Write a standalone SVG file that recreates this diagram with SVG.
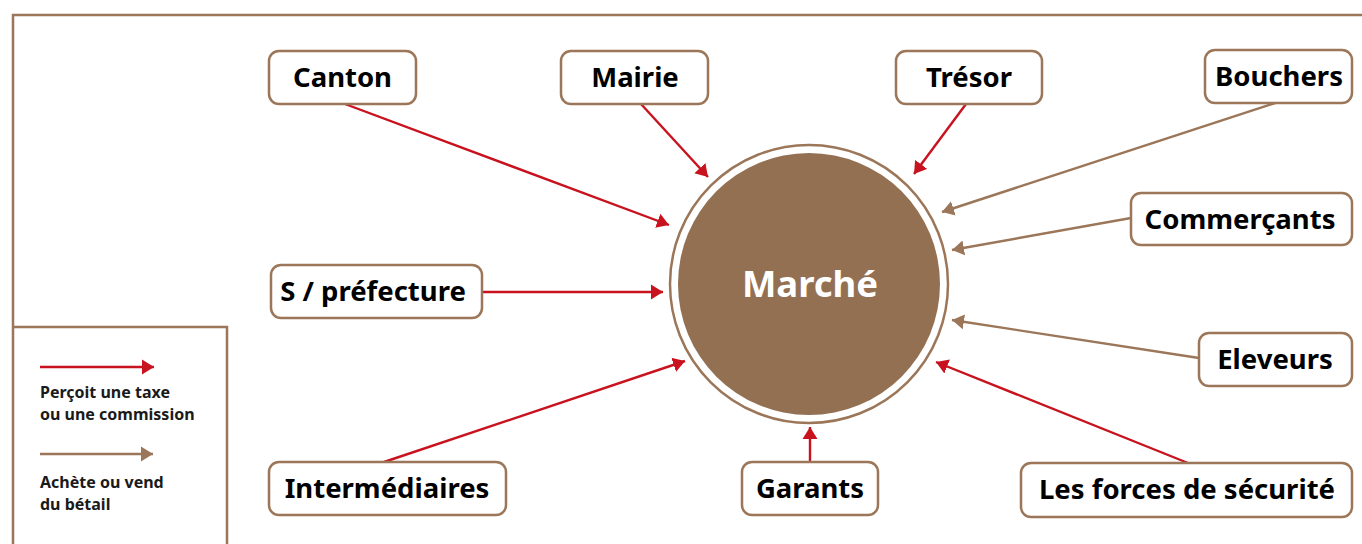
<svg xmlns="http://www.w3.org/2000/svg" width="1362" height="544" viewBox="0 0 1362 544">
  <style>
    .frame { fill: none; stroke: #9b7658; stroke-width: 2.5; }
    .box { fill: #ffffff; stroke: #9b7658; stroke-width: 2.5; }
    .label { font-family: "Noto Sans", "Liberation Sans", sans-serif; font-weight: 700; font-size: 27.5px; fill: #000000; text-anchor: middle; }
    .legend { font-family: "Noto Sans", "Liberation Sans", sans-serif; font-weight: 700; font-size: 16px; fill: #1a1a1a; }
    .tax { stroke: #c8131f; stroke-width: 2.4; fill: none; marker-end: url(#headTax); }
    .trade { stroke: #9b7658; stroke-width: 2.4; fill: none; marker-end: url(#headTrade); }
  </style>
  <defs>
    <marker id="headTax" markerUnits="userSpaceOnUse" markerWidth="14" markerHeight="16" refX="12" refY="8" orient="auto">
      <path d="M0,0.5 L12,8 L0,15.5 Z" fill="#c8131f"/>
    </marker>
    <marker id="headTrade" markerUnits="userSpaceOnUse" markerWidth="14" markerHeight="16" refX="12" refY="8" orient="auto">
      <path d="M0,0.5 L12,8 L0,15.5 Z" fill="#9b7658"/>
    </marker>
  </defs>

  <rect width="1362" height="544" fill="#ffffff"/>

  <!-- outer frame (open to the right and bottom) -->
  <path class="frame" d="M13,550 L13,15 L1370,15"/>

  <!-- legend -->
  <g id="legend">
    <path class="frame" d="M13,327 L227,327 L227,550"/>
    <line x1="40" y1="367" x2="154" y2="367" class="tax"/>
    <text class="legend" x="40" y="398">Perçoit une taxe</text>
    <text class="legend" x="40" y="420">ou une commission</text>
    <line x1="40" y1="454" x2="153" y2="454" class="trade"/>
    <text class="legend" x="40" y="488">Achète ou vend</text>
    <text class="legend" x="40" y="510">du bétail</text>
  </g>

  <!-- connectors -->
  <g id="connectors">
    <line class="tax" x1="345" y1="104" x2="669" y2="225"/>
    <line class="tax" x1="641" y1="104" x2="708" y2="177"/>
    <line class="tax" x1="966" y1="104" x2="914" y2="174"/>
    <line class="trade" x1="1275" y1="103" x2="942" y2="212"/>
    <line class="trade" x1="1131" y1="218" x2="952" y2="250"/>
    <line class="tax" x1="482" y1="292" x2="663" y2="292"/>
    <line class="trade" x1="1199" y1="358" x2="952" y2="320"/>
    <line class="tax" x1="384" y1="462" x2="685" y2="361"/>
    <line class="tax" x1="810" y1="462" x2="810" y2="427"/>
    <line class="tax" x1="1188" y1="463" x2="936" y2="362"/>
  </g>

  <!-- central node -->
  <g id="marche">
    <circle cx="809" cy="284" r="139" fill="none" stroke="#9b7658" stroke-width="2.5"/>
    <circle cx="809" cy="284" r="131" fill="#947053"/>
    <text x="810" y="297" font-family="Noto Sans, Liberation Sans, sans-serif" font-weight="700" font-size="36.5" fill="#ffffff" text-anchor="middle">Marché</text>
  </g>

  <!-- actor nodes -->
  <g id="canton">
    <rect class="box" x="269" y="51" width="147" height="53" rx="10"/>
    <text class="label" x="342.5" y="87">Canton</text>
  </g>
  <g id="mairie">
    <rect class="box" x="561" y="51" width="147" height="53" rx="10"/>
    <text class="label" x="635" y="87">Mairie</text>
  </g>
  <g id="tresor">
    <rect class="box" x="896" y="51" width="146" height="53" rx="10"/>
    <text class="label" x="969" y="87">Trésor</text>
  </g>
  <g id="bouchers">
    <rect class="box" x="1205" y="50" width="147" height="53" rx="10"/>
    <text class="label" x="1279" y="86">Bouchers</text>
  </g>
  <g id="commercants">
    <rect class="box" x="1131" y="193" width="221" height="52" rx="10"/>
    <text class="label" x="1240" y="229">Commerçants</text>
  </g>
  <g id="prefecture">
    <rect class="box" x="271" y="265" width="211" height="53" rx="10"/>
    <text class="label" x="373" y="301">S / préfecture</text>
  </g>
  <g id="eleveurs">
    <rect class="box" x="1199" y="333" width="153" height="53" rx="10"/>
    <text class="label" x="1275" y="369">Eleveurs</text>
  </g>
  <g id="intermediaires">
    <rect class="box" x="269" y="462" width="237" height="53" rx="10"/>
    <text class="label" x="387" y="498">Intermédiaires</text>
  </g>
  <g id="garants">
    <rect class="box" x="742" y="462" width="136" height="53" rx="10"/>
    <text class="label" x="810" y="498">Garants</text>
  </g>
  <g id="forces">
    <rect class="box" x="1021" y="463" width="331" height="54" rx="10"/>
    <text class="label" x="1187" y="499">Les forces de sécurité</text>
  </g>
</svg>
